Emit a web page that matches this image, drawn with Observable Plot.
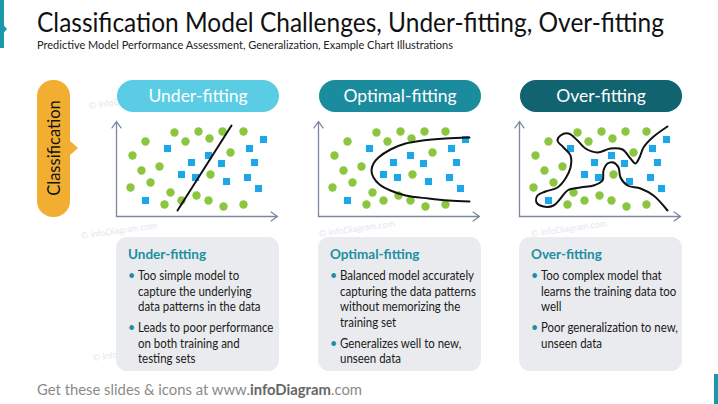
<!DOCTYPE html>
<html><head><meta charset="utf-8">
<script src="https://cdn.jsdelivr.net/npm/d3@7"></script>
<script src="https://cdn.jsdelivr.net/npm/@observablehq/plot@0.6"></script>
<style>
html,body{margin:0;padding:0;background:#fff;}
#slide{position:relative;width:718px;height:404px;overflow:hidden;font-family:Lato,"Open Sans",sans-serif;background:#fff;color:#111;}
.abs{position:absolute;white-space:nowrap;}
.wm{position:absolute;white-space:nowrap;font-size:9px;color:#E3E7EE;transform:rotate(-8deg);transform-origin:0 0;}
.pill{position:absolute;height:32px;border-radius:16px;color:#fff;text-align:center;line-height:32px;font-size:17.5px;}
.box{position:absolute;top:237px;height:134px;border-radius:11px;background:#E9EBEE;box-sizing:border-box;padding:9px 0 0 12px;}
.box .t{font-weight:700;color:#1C8FA3;font-size:13.5px;line-height:16px;height:16px;margin-bottom:6px;}
.box .b{display:flex;font-size:12.4px;line-height:15.5px;color:#1a1a1a;white-space:nowrap;}
.box .b + .b{margin-top:5.5px;}
.box .dot{width:10px;color:#1C8FA3;flex:none;}
.box .txt{display:inline-block;transform:scaleX(0.925);transform-origin:0 0;}
</style></head><body><div id="slide"></div>
<script>
// ---- data ----
const panelNames = ["Under-fitting", "Optimal-fitting", "Over-fitting"];
const pillColors = ["#5ACCE4", "#1B8B9E", "#10636F"];
const panelLeft = [116, 318, 519];
const xAxisMax = 161, yAxisMax = 95;

// class A (green circles) and class B (blue squares), shared layout in all panels
const greenX = [58, 82, 106, 127, 29, 69, 93, 16, 114, 25, 43, 94, 34, 14, 54, 80, 92, 65, 48, 107, 127];
const greenY = [84, 85, 85, 85, 75, 75, 78, 61, 64, 46, 50, 42, 34, 29, 24, 21, 16, 16, 12, 10, 12];
const blueX = [147, 51, 133, 92, 75, 105, 138, 65, 79, 131, 110, 142, 29];
const blueY = [77, 68, 68, 61, 54, 53, 54, 42, 39, 39, 35, 28, 16];

// decision boundaries
const underX = [61, 115];
const underY = [6, 91];
const optimalX = [151, 127, 104, 87, 72, 60, 55, 53, 55, 61, 72, 87, 110, 130, 151];
const optimalY = [79, 78, 76, 73, 67, 59, 53, 46, 39, 32, 26, 21, 18, 16, 15];
const overX = [148, 133, 124, 120, 116, 111, 103, 91, 78, 66, 58, 49, 41, 38, 44, 51, 51, 46, 38, 26, 18, 17, 24, 34, 41, 48, 61, 74, 83, 84, 88, 94, 99, 101, 108, 121, 134, 148];
const overY = [90, 79, 69, 59, 53, 58, 67, 68, 64, 68, 76, 83, 81, 76, 69, 61, 49, 38, 29, 25, 21, 14, 10, 11, 18, 26, 29, 31, 36, 46, 53, 54, 49, 39, 31, 28, 21, 6];

const boxTitles = ["Under-fitting", "Optimal-fitting", "Over-fitting"];
const boxBullets = [
  [["Too simple model to", "capture the underlying", "data patterns in the data"],
   ["Leads to poor performance", "on both training and", "testing sets"]],
  [["Balanced model accurately", "capturing the data patterns", "without memorizing the", "training set"],
   ["Generalizes well to new,", "unseen data"]],
  [["Too complex model that", "learns the training data too", "well"],
   ["Poor generalization to new,", "unseen data"]]
];
const curveX = [underX, optimalX, overX];
const curveY = [underY, optimalY, overY];
const curveKinds = ["linear", "catmull-rom", "catmull-rom"];

// ---- layout ----
const slide = document.getElementById("slide");
function el(tag, cls, css, html) {
  const e = document.createElement(tag);
  if (cls) e.className = cls;
  Object.assign(e.style, css || {});
  if (html != null) e.innerHTML = html;
  slide.appendChild(e);
  return e;
}
function fitX(e, w) {
  const cw = e.getBoundingClientRect().width;
  e.style.transformOrigin = "0 0";
  e.style.transform = `scaleX(${w / cw})`;
}

// faint watermarks
[[88, 100], [80, 230], [92, 352], [318, 228], [530, 228]].forEach(([x, y]) =>
  el("div", "wm", {left: x + "px", top: y + "px"}, "© infoDiagram.com"));

// decorative edges
el("div", "abs", {left: "0px", top: "0px", width: "4px", height: "48px", background: "#1A97AB"});
el("div", "abs", {left: "0px", top: "21px", width: "0", height: "0", borderTop: "8px solid transparent", borderBottom: "8px solid transparent", borderLeft: "7px solid #1A97AB"});
el("div", "abs", {left: "714px", top: "374px", width: "4px", height: "30px", background: "#1A97AB"});

const title = el("div", "abs", {left: "37px", top: "8px", fontSize: "27px", lineHeight: "1", color: "#111"}, "Classification Model Challenges, Under-fitting, Over-fitting");
const sub = el("div", "abs", {left: "37px", top: "39px", fontSize: "11.5px", lineHeight: "1", color: "#222"}, "Predictive Model Performance Assessment, Generalization, Example Chart Illustrations");
const foot = el("div", "abs", {left: "37px", top: "383px", fontSize: "14.5px", lineHeight: "1", color: "#8a8a8a"}, 'Get these slides &amp; icons at www.<b style="color:#666">infoDiagram</b>.com');

// Classification tab
el("div", "abs", {left: "37px", top: "80px", width: "33px", height: "137px", borderRadius: "16px", background: "#F2AE30"});
el("div", "abs", {left: "69px", top: "140px", width: "0", height: "0", borderTop: "8px solid transparent", borderBottom: "8px solid transparent", borderLeft: "9px solid #F2AE30"});
el("div", "abs", {left: "54px", top: "148px", fontSize: "16.5px", lineHeight: "1", color: "#111", transform: "translate(-50%,-50%) rotate(-90deg)"}, "Classification");

panelNames.forEach((name, i) => {
  const L = panelLeft[i];
  el("div", "pill", {left: (L + 1) + "px", top: "80px", width: "162px", background: pillColors[i]}, name);

  const greens = greenX.map((x, k) => ({x, y: greenY[k]}));
  const blues = blueX.map((x, k) => ({x, y: blueY[k]}));
  const curve = curveX[i].map((x, k) => ({x, y: curveY[i][k]}));
  const axes = [{x1: 0, y1: 0, x2: 0, y2: yAxisMax}, {x1: 0, y1: 0, x2: xAxisMax, y2: 0}];
  const chart = Plot.plot({
    width: xAxisMax + 10, height: yAxisMax + 10,
    marginLeft: 5, marginRight: 5, marginTop: 5, marginBottom: 5,
    x: {domain: [0, xAxisMax], axis: null},
    y: {domain: [0, yAxisMax], axis: null},
    style: {background: "transparent", overflow: "visible"},
    marks: [
      Plot.arrow(axes, {x1: "x1", y1: "y1", x2: "x2", y2: "y2", stroke: "#7B879B", strokeWidth: 1.3, headLength: 9, headAngle: 70}),
      Plot.dot(greens, {x: "x", y: "y", r: 4.2, fill: "#8CC63F"}),
      Plot.dot(blues, {x: "x", y: "y", r: 4, symbol: "square", fill: "#1EA7E6"}),
      Plot.line(curve, {x: "x", y: "y", curve: curveKinds[i], stroke: "#111", strokeWidth: 2})
    ]
  });
  const holder = el("div", "abs", {left: (L - 5) + "px", top: "116px"});
  holder.appendChild(chart);

  const box = el("div", "box", {left: L + "px", width: "163px"});
  const t = document.createElement("div"); t.className = "t"; t.textContent = boxTitles[i]; box.appendChild(t);
  boxBullets[i].forEach(lines => {
    const b = document.createElement("div"); b.className = "b";
    b.innerHTML = `<span class="dot">•</span><span class="txt">${lines.join("<br>")}</span>`;
    box.appendChild(b);
  });
});

function fitAll() {
  fitX(title, 627);
  fitX(sub, 416);
  fitX(foot, 325);
}
fitAll();
</script>
</body></html>
